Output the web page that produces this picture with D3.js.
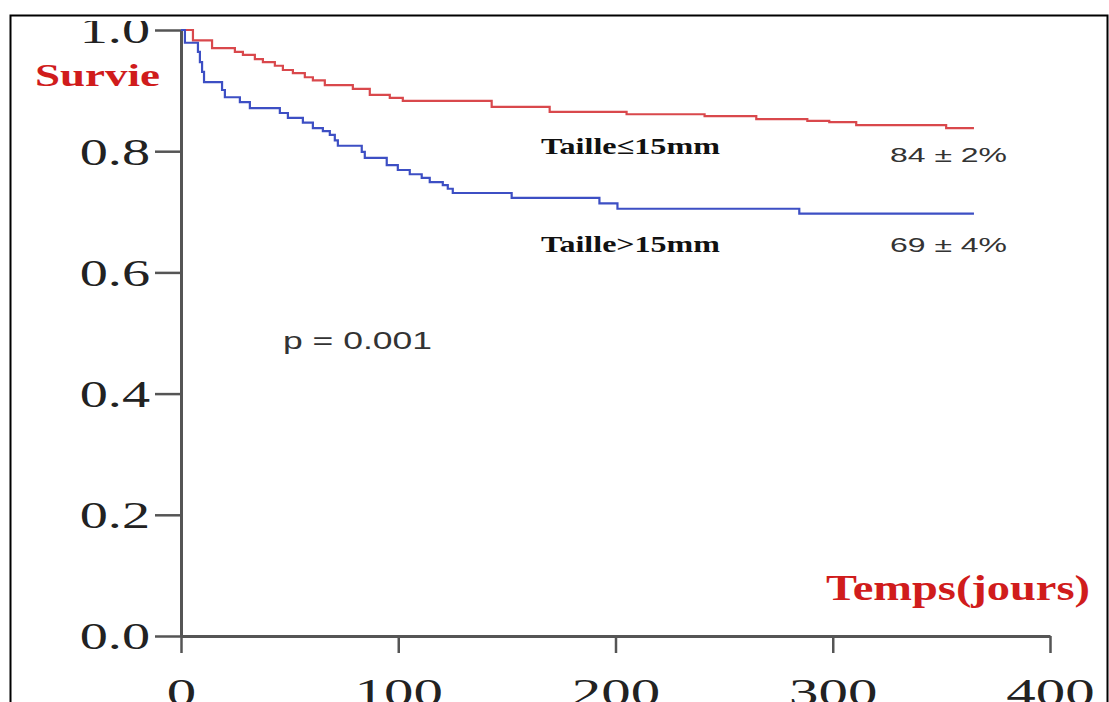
<!DOCTYPE html>
<html>
<head>
<meta charset="utf-8">
<script src="https://cdn.jsdelivr.net/npm/d3@7"></script>
<style>
  body { margin: 0; background: #fff; }
  svg { display: block; }
</style>
</head>
<body>
<svg id="chart" width="1109" height="702"></svg>
<script>
// Kaplan-Meier data (time in days, survival proportion)
var redTimes = [0, 5.5, 14.3, 24.8, 28.5, 34.0, 37.7, 43.2, 46.9, 51.5, 57.0, 60.7, 66.2, 79.1, 86.9, 96.1, 102.1, 143.0, 169.7, 205.1, 241.0, 264.8, 288.3, 298.4, 310.8, 352.2, 365];
var redSurv = [1.0, 0.983, 0.970, 0.964, 0.959, 0.952, 0.947, 0.941, 0.934, 0.929, 0.922, 0.917, 0.909, 0.903, 0.893, 0.888, 0.883, 0.873, 0.865, 0.861, 0.858, 0.853, 0.850, 0.848, 0.843, 0.838, 0.838];

var blueTimes = [0, 1.8, 7.8, 8.7, 9.7, 10.6, 18.9, 20.2, 27.1, 31.7, 45.5, 49.2, 56.1, 60.7, 65.3, 68.5, 70.8, 72.2, 83.2, 84.6, 94.7, 99.8, 105.3, 110.8, 114.5, 120.5, 122.8, 125.1, 152.2, 192.6, 200.9, 284.6, 365];
var blueSurv = [1.0, 0.979, 0.964, 0.947, 0.931, 0.914, 0.901, 0.889, 0.881, 0.871, 0.863, 0.855, 0.847, 0.838, 0.833, 0.827, 0.818, 0.809, 0.799, 0.789, 0.777, 0.769, 0.762, 0.756, 0.749, 0.744, 0.738, 0.731, 0.723, 0.714, 0.705, 0.697, 0.697];

var xTicks = [0, 100, 200, 300, 400];
var yTicks = [0, 0.2, 0.4, 0.6, 0.8, 1.0];

var groupLabels = ["Taille\u226415mm", "Taille>15mm"];
var finalLabels = ["84 \u00b1 2%", "69 \u00b1 4%"];
var pValue = "p = 0.001";

var svg = d3.select("#chart");

// frame
svg.append("rect")
    .attr("x", 10.5).attr("y", 15.5)
    .attr("width", 1097).attr("height", 720)
    .attr("fill", "none")
    .attr("stroke", "#000")
    .attr("stroke-width", 2);

var x = d3.scaleLinear().domain([0, 400]).range([181, 1050]);
var y = d3.scaleLinear().domain([0, 1]).range([636, 30]);

// clip so the top label gets cut like in the picture (group coords, shifted by 181)
svg.append("defs").append("clipPath").attr("id", "clipTop")
    .append("rect").attr("x", -300).attr("y", 21).attr("width", 1400).attr("height", 700);

// stretch text horizontally like the source image
function stretch(sel, factor) {
    sel.each(function () {
        var w = this.getComputedTextLength();
        d3.select(this)
            .attr("textLength", w * factor)
            .attr("lengthAdjust", "spacingAndGlyphs");
    });
}

// y axis
var yAxis = svg.append("g")
    .attr("transform", "translate(181,0)")
    .attr("clip-path", "url(#clipTop)")
    .call(d3.axisLeft(y).tickValues(yTicks).tickFormat(d3.format(".1f"))
        .tickSize(26).tickSizeOuter(0).tickPadding(5));

// x axis
var xAxis = svg.append("g")
    .attr("transform", "translate(0,636)")
    .call(d3.axisBottom(x).tickValues(xTicks).tickFormat(d3.format("d"))
        .tickSize(17).tickSizeOuter(0).tickPadding(25));

[yAxis, xAxis].forEach(function (a) {
    a.select(".domain").attr("stroke", "#555").attr("stroke-width", 3);
    a.selectAll(".tick line").attr("stroke", "#555").attr("stroke-width", 2.5);
    a.selectAll(".tick text")
        .attr("fill", "#222")
        .style("font-family", "'Liberation Serif', 'Times New Roman', serif")
        .style("font-size", "38px");
});
yAxis.selectAll(".tick text").attr("dy", "0.34em");
xAxis.selectAll(".tick text").attr("dy", "0.71em");
stretch(yAxis.selectAll(".tick text"), 1.48);
stretch(xAxis.selectAll(".tick text"), 1.55);

// survival curves
var line = d3.line()
    .x(function (d) { return x(d[0]); })
    .y(function (d) { return y(d[1]); })
    .curve(d3.curveStepAfter);

var series = [
    { times: redTimes, surv: redSurv, color: "#d9484c" },
    { times: blueTimes, surv: blueSurv, color: "#3d4fc4" }
];

svg.append("g")
    .selectAll("path")
    .data(series)
    .enter()
    .append("path")
    .attr("d", function (s) { return line(d3.zip(s.times, s.surv)); })
    .attr("fill", "none")
    .attr("stroke", function (s) { return s.color; })
    .attr("stroke-width", 2.2);

// axis titles
svg.append("text")
    .attr("x", 35).attr("y", 86)
    .attr("fill", "#d01c1c")
    .style("font-family", "'Liberation Serif', serif")
    .style("font-weight", "bold")
    .style("font-size", "32px")
    .text("Survie")
    .attr("textLength", 125).attr("lengthAdjust", "spacingAndGlyphs");

svg.append("text")
    .attr("x", 826).attr("y", 600)
    .attr("fill", "#d01c1c")
    .style("font-family", "'Liberation Serif', serif")
    .style("font-weight", "bold")
    .style("font-size", "36px")
    .text("Temps(jours)")
    .attr("textLength", 264).attr("lengthAdjust", "spacingAndGlyphs");

// group labels
svg.selectAll(".grp")
    .data(groupLabels)
    .enter()
    .append("text")
    .attr("class", "grp")
    .attr("x", 541)
    .attr("y", function (d, i) { return [154, 252][i]; })
    .attr("fill", "#111")
    .style("font-family", "'Liberation Serif', serif")
    .style("font-weight", "bold")
    .style("font-size", "23px")
    .text(function (d) { return d; })
    .attr("textLength", 179).attr("lengthAdjust", "spacingAndGlyphs");

svg.selectAll(".fin")
    .data(finalLabels)
    .enter()
    .append("text")
    .attr("class", "fin")
    .attr("x", 890)
    .attr("y", function (d, i) { return [162, 252][i]; })
    .attr("fill", "#333")
    .style("font-family", "'Liberation Sans', Arial, sans-serif")
    .style("font-size", "20px")
    .text(function (d) { return d; })
    .attr("textLength", 117).attr("lengthAdjust", "spacingAndGlyphs");

svg.append("text")
    .attr("x", 283).attr("y", 349)
    .attr("fill", "#333")
    .style("font-family", "'Liberation Sans', Arial, sans-serif")
    .style("font-size", "23px")
    .text(pValue)
    .attr("textLength", 149).attr("lengthAdjust", "spacingAndGlyphs");
</script>
</body>
</html>
